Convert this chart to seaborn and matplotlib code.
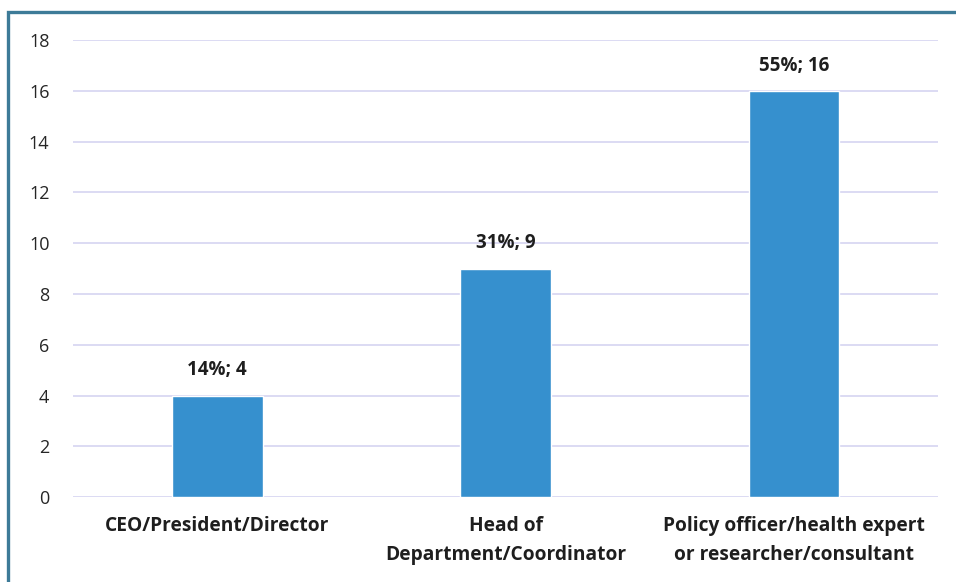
import matplotlib
matplotlib.use("Agg")
import matplotlib.pyplot as plt
import matplotlib.patches as mpatches
import seaborn as sns
import pandas as pd

categories = ["CEO/President/Director",
              "Head of\nDepartment/Coordinator",
              "Policy officer/health expert\nor researcher/consultant"]
counts = [4, 9, 16]
percents = [14, 31, 55]
yticks = [0, 2, 4, 6, 8, 10, 12, 14, 16, 18]

df = pd.DataFrame({"role": categories, "count": counts})

sns.set_theme(style="white")
plt.rcParams["font.family"] = ["Open Sans", "DejaVu Sans"]

fig = plt.figure(figsize=(9.56, 5.82), dpi=100)
ax = fig.add_axes([0.0764, 0.146, 0.905, 0.785])

sns.barplot(data=df, x="role", y="count", color="#3690CE", width=0.315,
            saturation=1, ax=ax, zorder=3)

ax.set_ylim(0, 18)
ax.set_yticks(yticks)
ax.set_yticklabels([str(t) for t in yticks], fontsize=13, color="#262626")
ax.yaxis.grid(True, color="#d9d8f2", linewidth=1.3, zorder=0)
ax.set_axisbelow(True)
ax.tick_params(axis="y", length=0, pad=17)
ax.tick_params(axis="x", length=0, pad=14)
for lbl in ax.get_xticklabels():
    lbl.set_fontsize(13.8)
    lbl.set_fontweight("bold")
    lbl.set_color("#1e1e1e")
    lbl.set_linespacing(1.6)
ax.set_xlabel("")
ax.set_ylabel("")
for s in ax.spines.values():
    s.set_visible(False)

for i, (c, p) in enumerate(zip(counts, percents)):
    ax.text(i, c + 0.6, f"{p}%; {c}", ha="center", va="bottom",
            fontsize=13.5, fontweight="bold", color="#1e1e1e")

# outer frame, open at right and bottom edges
frame = mpatches.Rectangle((8 / 956, -0.05), 1.2, 1 - 12 / 582 + 0.05,
                           transform=fig.transFigure, fill=False,
                           edgecolor="#3d7b98", linewidth=2.4)
fig.patches.append(frame)

fig.savefig("out.png", dpi=100)
